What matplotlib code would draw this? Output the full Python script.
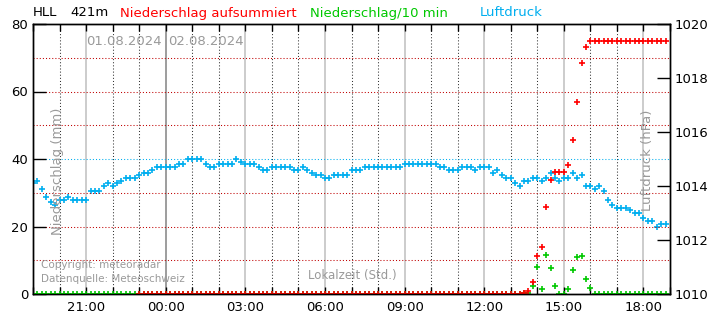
import matplotlib
matplotlib.use("Agg")
import matplotlib.pyplot as plt
import matplotlib.dates as mdates
import numpy as np
import pandas as pd

# 10-minute values, 01.08.2024 19:00 .. 02.08.2024 18:50 (12 values = 2 hours per row)
luftdruck = [
    1014.1, 1014.2, 1013.9, 1013.6, 1013.4, 1013.3, 1013.5, 1013.5, 1013.6, 1013.5, 1013.5, 1013.5,
    1013.5, 1013.8, 1013.8, 1013.8, 1014.0, 1014.1, 1014.0, 1014.1, 1014.2, 1014.3, 1014.3, 1014.3,
    1014.4, 1014.5, 1014.5, 1014.6, 1014.7, 1014.7, 1014.7, 1014.7, 1014.7, 1014.8, 1014.8, 1015.0,
    1015.0, 1015.0, 1015.0, 1014.8, 1014.7, 1014.7, 1014.8, 1014.8, 1014.8, 1014.8, 1015.0, 1014.9,
    1014.8, 1014.8, 1014.8, 1014.7, 1014.6, 1014.6, 1014.7, 1014.7, 1014.7, 1014.7, 1014.7, 1014.6,
    1014.6, 1014.7, 1014.6, 1014.5, 1014.4, 1014.4, 1014.3, 1014.3, 1014.4, 1014.4, 1014.4, 1014.4,
    1014.6, 1014.6, 1014.6, 1014.7, 1014.7, 1014.7, 1014.7, 1014.7, 1014.7, 1014.7, 1014.7, 1014.7,
    1014.8, 1014.8, 1014.8, 1014.8, 1014.8, 1014.8, 1014.8, 1014.8, 1014.7, 1014.7, 1014.6, 1014.6,
    1014.6, 1014.7, 1014.7, 1014.7, 1014.6, 1014.7, 1014.7, 1014.7, 1014.5, 1014.6, 1014.4, 1014.3,
    1014.3, 1014.1, 1014.0, 1014.2, 1014.2, 1014.3, 1014.3, 1014.2, 1014.3, 1014.5, 1014.3, 1014.2,
    1014.3, 1014.3, 1014.5, 1014.3, 1014.4, 1014.0, 1014.0, 1013.9, 1014.0, 1013.8, 1013.5, 1013.3,
    1013.2, 1013.2, 1013.2, 1013.1, 1013.0, 1013.0, 1012.8, 1012.7, 1012.7, 1012.5, 1012.6, 1012.6,
]

regen_10min = [
    0, 0, 0, 0, 0, 0, 0, 0, 0, 0, 0, 0,
    0, 0, 0, 0, 0, 0, 0, 0, 0, 0, 0, 0,
    0, 0, 0, 0, 0, 0, 0, 0, 0, 0, 0, 0,
    0, 0, 0, 0, 0, 0, 0, 0, 0, 0, 0, 0,
    0, 0, 0, 0, 0, 0, 0, 0, 0, 0, 0, 0,
    0, 0, 0, 0, 0, 0, 0, 0, 0, 0, 0, 0,
    0, 0, 0, 0, 0, 0, 0, 0, 0, 0, 0, 0,
    0, 0, 0, 0, 0, 0, 0, 0, 0, 0, 0, 0,
    0, 0, 0, 0, 0, 0, 0, 0, 0, 0, 0, 0,
    0, 0, 0, 0.4, 0.4, 2.5, 8.0, 1.4, 11.7, 7.6, 2.5, 0,
    0, 1.4, 7.0, 10.9, 11.2, 4.4, 1.7, 0, 0, 0, 0, 0,
    0, 0, 0, 0, 0, 0, 0, 0, 0, 0, 0, 0,
]

nan = np.nan
regen_summe = [
    nan, nan, nan, nan, nan, nan, nan, nan, nan, nan, nan, nan,
    nan, nan, nan, nan, nan, nan, nan, nan, nan, nan, nan, nan,
    0, 0, 0, 0, 0, 0, 0, 0, 0, 0, 0, 0,
    0, 0, 0, 0, 0, 0, 0, 0, 0, 0, 0, 0,
    0, 0, 0, 0, 0, 0, 0, 0, 0, 0, 0, 0,
    0, 0, 0, 0, 0, 0, 0, 0, 0, 0, 0, 0,
    0, 0, 0, 0, 0, 0, 0, 0, 0, 0, 0, 0,
    0, 0, 0, 0, 0, 0, 0, 0, 0, 0, 0, 0,
    0, 0, 0, 0, 0, 0, 0, 0, 0, 0, 0, 0,
    0, 0, 0, 0.4, 0.8, 3.5, 11.4, 13.9, 25.7, 33.7, 36.1, 36.1,
    36.1, 38.1, 45.6, 56.9, 68.4, 73.1, 75.0, 75.0, 75.0, 75.0, 75.0, 75.0,
    75.0, 75.0, 75.0, 75.0, 75.0, 75.0, 75.0, 75.0, 75.0, 75.0, 75.0, 75.0,
]

times = pd.date_range("2024-08-01 19:00", periods=len(luftdruck), freq="10min")
t_start = pd.Timestamp("2024-08-01 19:00")
t_end = pd.Timestamp("2024-08-02 19:00")

BLUE = "#00AEEF"
RED = "#FF0000"
GREEN = "#00C800"
GRAY = "#9A9A9A"
DOTS = (0, (1, 2))

fig = plt.figure(figsize=(7.1, 3.2), dpi=100)
ax = fig.add_axes([33 / 710, 26 / 320, 637 / 710, 270 / 320])
ax2 = ax.twinx()

# vertical grid: hourly dotted, 3-hourly solid gray, midnight darker
for h in pd.date_range("2024-08-01 20:00", "2024-08-02 18:00", freq="h"):
    if h.hour == 0:
        ax.axvline(h, color="#8C8C8C", lw=1.2, zorder=0)
    elif h.hour % 3 == 0:
        ax.axvline(h, color="#C4C4C4", lw=1.2, zorder=0)
    else:
        ax.axvline(h, color="#333333", lw=0.75, ls=DOTS, zorder=0)

# horizontal grid
for mm in [10, 20, 30, 50, 60, 70]:
    ax2.axhline(mm, color="#C00000", lw=0.75, ls=DOTS, zorder=0)
ax.axhline(1015, color=BLUE, lw=0.75, ls=DOTS, zorder=0)

ax.plot(times, luftdruck, ls="none", marker="+", ms=5, mew=1.2, color=BLUE)
ax2.plot(times, regen_10min, ls="none", marker="+", ms=5, mew=1.2, color=GREEN)
ax2.plot(times, regen_summe, ls="none", marker="+", ms=5, mew=1.2, color=RED)

ax.set_xlim(t_start, t_end)
ax.set_ylim(1010, 1020)
ax2.set_ylim(0, 80)

ax.yaxis.tick_right()
ax.set_yticks(np.arange(1010, 1021, 2))
ax.tick_params(axis="y", direction="in", length=9.5, width=1, labelsize=9.5, pad=3)
ax2.yaxis.tick_left()
ax2.set_yticks([0, 20, 40, 60, 80])
ax2.tick_params(axis="y", direction="in", length=9, width=1, labelsize=9.5, pad=3.5)

ax.xaxis.set_major_locator(mdates.HourLocator(byhour=range(0, 24, 3)))
ax.xaxis.set_minor_locator(mdates.HourLocator())
ax.xaxis.set_major_formatter(mdates.DateFormatter("%H:%M"))
ax.tick_params(axis="x", which="both", direction="in", top=True, bottom=True,
               length=5, width=1, labelsize=9.5, pad=5)

for a in (ax, ax2):
    for s in a.spines.values():
        s.set_linewidth(1)
        s.set_color("black")

# header
fig.text(33 / 710, 1 - 13 / 320, "HLL", fontsize=9.5, va="center")
fig.text(70 / 710, 1 - 13 / 320, "421m", fontsize=9.5, va="center")
fig.text(120 / 710, 1 - 13 / 320, "Niederschlag aufsummiert", fontsize=9.5, va="center", color=RED)
fig.text(310 / 710, 1 - 13 / 320, "Niederschlag/10 min", fontsize=9.5, va="center", color=GREEN)
fig.text(480 / 710, 1 - 13 / 320, "Luftdruck", fontsize=9.5, va="center", color=BLUE)

# texts inside the plot
ax2.text(0.083, 0.937, "01.08.2024", transform=ax2.transAxes, fontsize=9.5, color=GRAY, va="center")
ax2.text(0.212, 0.937, "02.08.2024", transform=ax2.transAxes, fontsize=9.5, color=GRAY, va="center")
ax2.text(0.038, 0.456, "Niederschlag (mm)", transform=ax2.transAxes, rotation=90,
         fontsize=9.5, color=GRAY, ha="center", va="center")
ax2.text(0.964, 0.496, "Luftdruck (hPa)", transform=ax2.transAxes, rotation=90,
         fontsize=9.5, color=GRAY, ha="center", va="center")
ax2.text(0.0126, 0.107, "Copyright: meteoradar", transform=ax2.transAxes,
         fontsize=7.5, color=GRAY, va="center")
ax2.text(0.0126, 0.056, "Datenquelle: Meteoschweiz", transform=ax2.transAxes,
         fontsize=7.5, color=GRAY, va="center")
ax2.text(0.502, 0.067, "Lokalzeit (Std.)", transform=ax2.transAxes,
         fontsize=8.5, color=GRAY, ha="center", va="center")

fig.savefig("out.png", dpi=100, facecolor="white")
